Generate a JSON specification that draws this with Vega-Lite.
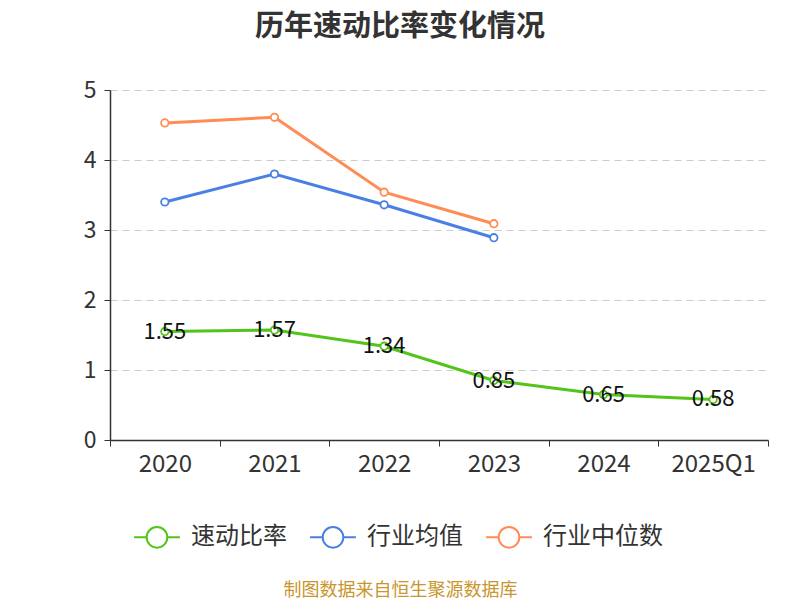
{
  "$schema": "https://vega.github.io/schema/vega-lite/v6.json",
  "autosize": "none",
  "width": 658,
  "height": 350,
  "padding": {"left": 110, "top": 90, "right": 32, "bottom": 160},
  "background": "white",
  "config": {
    "view": {"stroke": null},
    "font": "Noto Sans CJK SC"
  },
  "title": {
    "text": "历年速动比率变化情况",
    "anchor": "middle",
    "frame": "group",
    "dx": -39,
    "offset": 37,
    "fontSize": 29,
    "fontWeight": "bold",
    "color": "#333333",
    "font": "Noto Sans CJK SC"
  },
  "data": {
    "values": [
      {"year": "2020", "series": "速动比率", "value": 1.55},
      {"year": "2021", "series": "速动比率", "value": 1.57},
      {"year": "2022", "series": "速动比率", "value": 1.34},
      {"year": "2023", "series": "速动比率", "value": 0.85},
      {"year": "2024", "series": "速动比率", "value": 0.65},
      {"year": "2025Q1", "series": "速动比率", "value": 0.58},
      {"year": "2020", "series": "行业均值", "value": 3.40},
      {"year": "2021", "series": "行业均值", "value": 3.80},
      {"year": "2022", "series": "行业均值", "value": 3.36},
      {"year": "2023", "series": "行业均值", "value": 2.89},
      {"year": "2020", "series": "行业中位数", "value": 4.53},
      {"year": "2021", "series": "行业中位数", "value": 4.61},
      {"year": "2022", "series": "行业中位数", "value": 3.54},
      {"year": "2023", "series": "行业中位数", "value": 3.09}
    ]
  },
  "encoding": {
    "x": {
      "field": "year",
      "type": "ordinal",
      "sort": null,
      "bandPosition": 0.5,
      "scale": {"type": "band", "paddingInner": 0, "paddingOuter": 0},
      "axis": {
        "title": "制图数据来自恒生聚源数据库",
        "titleColor": "#c8962d",
        "titleFontSize": 18,
        "titleFontWeight": "normal",
        "titleX": 290,
        "titleY": 150,
        "titleBaseline": "middle",
        "labelAngle": 0,
        "labelFontSize": 24,
        "labelColor": "#333333",
        "labelPadding": 6,
        "tickBand": "extent",
        "tickSize": 6,
        "tickColor": "#333333",
        "domainColor": "#333333",
        "domainWidth": 1.5,
        "grid": false
      }
    },
    "y": {
      "field": "value",
      "type": "quantitative",
      "scale": {"domain": [0, 5]},
      "axis": {
        "title": null,
        "values": [0, 1, 2, 3, 4, 5],
        "labelFontSize": 23,
        "labelColor": "#333333",
        "labelPadding": 8,
        "tickSize": 6,
        "tickColor": "#333333",
        "domainColor": "#333333",
        "domainWidth": 1.5,
        "gridColor": "#cccccc",
        "gridDash": [7, 5],
        "gridWidth": 1.2
      }
    }
  },
  "layer": [
    {
      "mark": {"type": "line", "strokeWidth": 3},
      "encoding": {
        "color": {
          "field": "series",
          "type": "nominal",
          "scale": {
            "domain": ["速动比率", "行业均值", "行业中位数"],
            "range": ["#52c41a", "#4a80e3", "#ff8c55"]
          },
          "legend": {
            "title": null,
            "orient": "none",
            "direction": "horizontal",
            "legendX": 23,
            "legendY": 423,
            "symbolType": "M-1,0H-0.45M0.45,0H1M0.45,0A0.45,0.45,0,1,1,-0.45,0A0.45,0.45,0,1,1,0.45,0",
            "symbolSize": 2100,
            "symbolStrokeWidth": 2,
            "symbolFillColor": "#ffffff",
            "labelFontSize": 24,
            "labelColor": "#333333",
            "labelOffset": 10,
            "columnPadding": 19
          }
        }
      }
    },
    {
      "mark": {"type": "point", "filled": true, "fill": "#ffffff", "size": 55, "strokeWidth": 1.8, "opacity": 1},
      "encoding": {
        "stroke": {
          "field": "series",
          "type": "nominal",
          "scale": {
            "domain": ["速动比率", "行业均值", "行业中位数"],
            "range": ["#52c41a", "#4a80e3", "#ff8c55"]
          },
          "legend": null
        }
      }
    },
    {
      "transform": [{"filter": "datum.series === '速动比率'"}],
      "mark": {"type": "text", "fontSize": 22, "color": "#111111", "baseline": "middle", "align": "center"},
      "encoding": {
        "text": {"field": "value", "type": "quantitative", "format": ".2f"}
      }
    }
  ]
}
